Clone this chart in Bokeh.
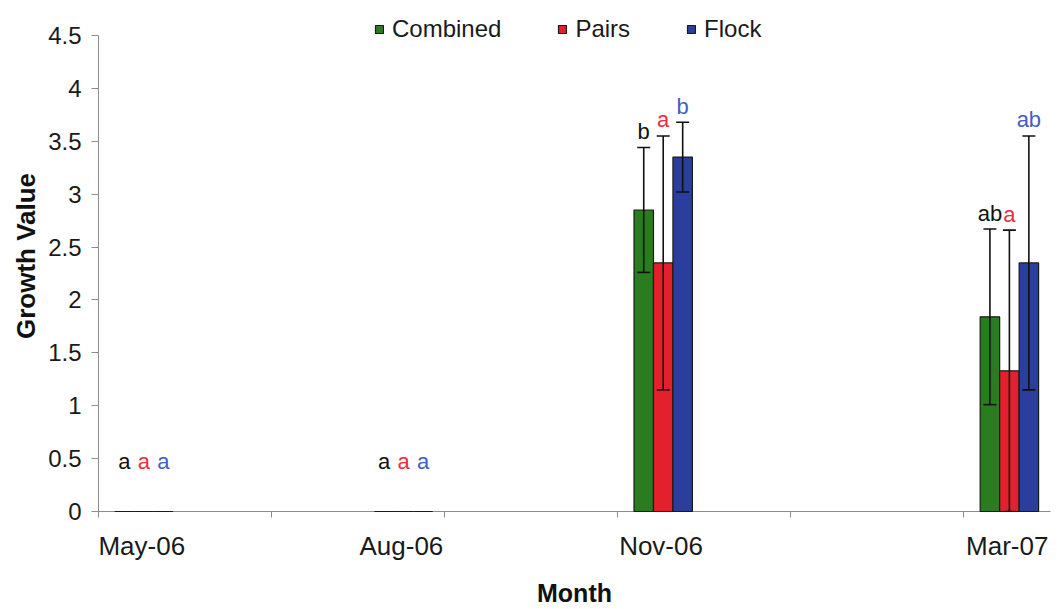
import numpy as np
import pandas as pd
from bokeh.plotting import figure
from bokeh.models import (ColumnDataSource, Range1d, FixedTicker, Whisker, TeeHead,
                          Legend, LegendItem, CustomJSTickFormatter)
from bokeh.core.properties import value
from bokeh.embed import file_html
from bokeh.resources import INLINE

# ---- data ----
months = ["2006-05", "2006-08", "2006-11", "2007-03"]
month_labels = ["May-06", "Aug-06", "Nov-06", "Mar-07"]
series = ["Combined", "Pairs", "Flock"]
combined = [0, 0, 2.85, 1.84]
pairs = [0, 0, 2.35, 1.33]
flock = [0, 0, 3.35, 2.35]
combined_err = [0, 0, 0.59, 0.83]
pairs_err = [0, 0, 1.20, 1.33]
flock_err = [0, 0, 0.33, 1.20]
combined_letters = ["a", "a", "b", "ab"]
pairs_letters = ["a", "a", "a", "a"]
flock_letters = ["a", "a", "b", "ab"]
y_ticks = [0, 0.5, 1, 1.5, 2, 2.5, 3, 3.5, 4, 4.5]
y_max = 4.5

# ---- styles ----
FONT = "Liberation Sans"
bar_colors = ["#2A7D1E", "#E3202B", "#2B3E9E"]
letter_colors = ["#111111", "#E8303A", "#3F5FC4"]
offsets = [-0.2, 0.025, 0.25]
bar_w = 0.225

d = pd.to_datetime(months)
idx = np.array((d.year - 2006) * 12 + d.month - 5, dtype=float)

W, H = 1059, 609
LEFT, RIGHT, BOT = 98, 9, 97
AXIS_TOP_PX = 35            # pixel row where the top tick (4.5) sits
frame_h = H - BOT
y_end = y_max * frame_h / (frame_h - AXIS_TOP_PX)   # room above the axis for the legend

p = figure(width=W, height=H, output_backend="svg", toolbar_location=None,
           x_range=Range1d(-0.5, 10.5), y_range=Range1d(0, y_end),
           min_border_left=LEFT, min_border_right=RIGHT, min_border_bottom=BOT,
           min_border_top=0)
p.outline_line_color = None
p.xgrid.visible = False
p.ygrid.visible = False
p.background_fill_color = "white"

vals = [combined, pairs, flock]
errs = [combined_err, pairs_err, flock_err]
letters = [combined_letters, pairs_letters, flock_letters]

items = []
for k, name in enumerate(series):
    v = np.array(vals[k], dtype=float)
    e = np.array(errs[k], dtype=float)
    x = idx + offsets[k]
    src = ColumnDataSource(dict(x=x, top=v))
    r = p.vbar(x="x", top="top", width=bar_w, source=src, fill_color=bar_colors[k],
               line_color="#1a1a1a", line_width=1.2, level="annotation")
    items.append(LegendItem(label=name, renderers=[r]))
    mask = e > 0
    wsrc = ColumnDataSource(dict(x=x[mask], upper=(v + e)[mask], lower=(v - e)[mask]))
    w = Whisker(source=wsrc, base="x", upper="upper", lower="lower", dimension="height",
                line_color="#111111", line_width=1.6, level="overlay",
                upper_head=TeeHead(size=13, line_width=1.6, line_color="#111111"),
                lower_head=TeeHead(size=13, line_width=1.6, line_color="#111111"))
    p.add_layout(w)
    tsrc = ColumnDataSource(dict(x=x, y=v + e, t=letters[k],
                                 yo=np.where(v > 0, -16, -50)))
    p.text(x="x", y="y", text="t", y_offset="yo", source=tsrc,
           text_font=value(FONT), text_font_size="22px", text_align="center",
           text_baseline="alphabetic", text_color=letter_colors[k], level="overlay")

legend = Legend(items=items, orientation="horizontal",
                location=(276, frame_h - AXIS_TOP_PX - 9),
                label_text_font=FONT, label_text_font_size="24px", label_text_color="#1a1a1a",
                glyph_width=10, glyph_height=10, label_standoff=8, spacing=56,
                label_height=24, padding=0, margin=0, border_line_color=None,
                background_fill_alpha=0)
p.add_layout(legend, "center")

# x axis
xa = p.xaxis[0]
xa.ticker = FixedTicker(ticks=list(idx), minor_ticks=[-0.5, 1.5, 3.5, 5.5, 7.5, 9.5])
xa.major_label_overrides = {int(i): lab for i, lab in zip(idx, month_labels)}
xa.major_tick_out = 0
xa.major_tick_in = 0
xa.minor_tick_out = 6
xa.minor_tick_in = 0
xa.minor_tick_line_color = "#8c8c8c"
xa.axis_line_color = "#8c8c8c"
xa.major_label_text_font = FONT
xa.major_label_text_font_size = "26px"
xa.major_label_text_color = "#1a1a1a"
xa.major_label_standoff = 13
xa.axis_label = "Month"
xa.axis_label_text_font = FONT
xa.axis_label_text_font_size = "25px"
xa.axis_label_text_font_style = "bold"
xa.axis_label_text_color = "#111111"
xa.axis_label_standoff = 15

# y axis
ya = p.yaxis[0]
ya.ticker = FixedTicker(ticks=y_ticks)
ya.bounds = (0, y_max)
ya.formatter = CustomJSTickFormatter(code="return tick.toString();")
ya.major_tick_out = 7
ya.major_tick_in = 0
ya.minor_tick_out = 0
ya.minor_tick_in = 0
ya.major_tick_line_color = "#8c8c8c"
ya.axis_line_color = "#8c8c8c"
ya.major_label_text_font = FONT
ya.major_label_text_font_size = "24px"
ya.major_label_text_color = "#1a1a1a"
ya.major_label_standoff = 10
ya.axis_label = "Growth Value"
ya.axis_label_text_font = FONT
ya.axis_label_text_font_size = "26px"
ya.axis_label_text_font_style = "bold"
ya.axis_label_text_color = "#111111"
ya.axis_label_standoff = 4

open("out.html", "w").write(file_html(p, INLINE))
